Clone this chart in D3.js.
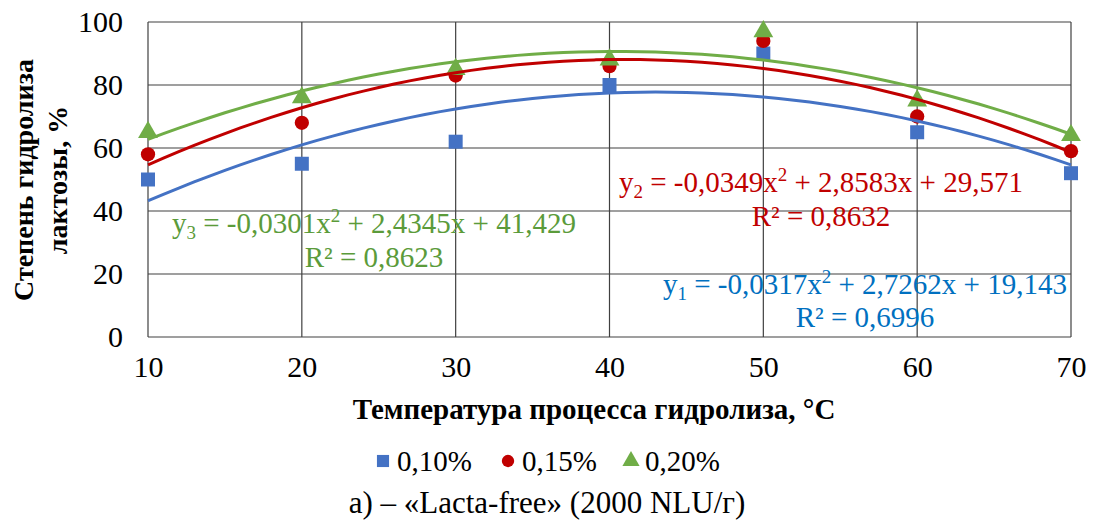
<!DOCTYPE html>
<html>
<head>
<meta charset="utf-8">
<script src="https://cdn.jsdelivr.net/npm/d3@7"></script>
</head>
<body style="margin:0; background:#fff">
<div id="chart"></div>
<script>
// data
var temps = [10, 20, 30, 40, 50, 60, 70];
var s010 = [50, 55, 62, 80, 90, 65, 52];
var s015 = [58, 68, 83, 86, 94, 70, 59];
var s020 = [65, 76, 85, 88, 97, 75, 64];
var seriesNames = ['0,10%', '0,15%', '0,20%'];
// trendline coefficients (a, b, c) as printed on the chart
var coef010 = [-0.0317, 2.7262, 19.143];
var coef015 = [-0.0349, 2.8583, 29.571];
var coef020 = [-0.0301, 2.4345, 41.429];
var r2Labels = ['0,6996', '0,8632', '0,8623'];
var eqLabels = [
  ['1', '-0,0317x', ' + 2,7262x + 19,143'],
  ['2', '-0,0349x', ' + 2,8583x + 29,571'],
  ['3', '-0,0301x', ' + 2,4345x + 41,429']
];
var xTicks = [10, 20, 30, 40, 50, 60, 70];
var yTicks = [0, 20, 40, 60, 80, 100];

var FONT = 'Liberation Serif';
var W = 1094, H = 523;
var margin = { top: 22, right: 23, bottom: 186, left: 148 },
  width = W - margin.left - margin.right,
  height = H - margin.top - margin.bottom;

var svg = d3.select('#chart').append('svg')
  .attr('width', W)
  .attr('height', H)
  .attr('font-family', FONT);

var g = svg.append('g')
  .attr('transform', 'translate(' + margin.left + ',' + margin.top + ')');

var x = d3.scaleLinear().domain([10, 70]).range([0, width]);
var y = d3.scaleLinear().domain([0, 100]).range([height, 0]);

function label(sel, size, bold) {
  return sel.attr('font-family', FONT)
    .attr('font-size', size)
    .attr('font-weight', bold ? 'bold' : 'normal');
}

// grid
g.append('g').selectAll('line').data(yTicks).enter().append('line')
  .attr('x1', 0).attr('x2', width)
  .attr('y1', function(d) { return y(d); })
  .attr('y2', function(d) { return y(d); })
  .attr('stroke', '#404040').attr('stroke-width', 1.2);
g.append('g').selectAll('line').data(xTicks).enter().append('line')
  .attr('y1', 0).attr('y2', height)
  .attr('x1', function(d) { return x(d); })
  .attr('x2', function(d) { return x(d); })
  .attr('stroke', '#404040').attr('stroke-width', 1.2);

// axes (labels only)
var xAxis = g.append('g')
  .attr('transform', 'translate(0,' + height + ')')
  .call(d3.axisBottom(x).tickValues(xTicks).tickSize(0).tickPadding(19).tickFormat(d3.format('d')));
var yAxis = g.append('g')
  .call(d3.axisLeft(y).tickValues(yTicks).tickSize(0).tickPadding(25).tickFormat(d3.format('d')));
[xAxis, yAxis].forEach(function(a) {
  a.attr('font-family', FONT).attr('font-size', 30);
  a.select('.domain').remove();
  label(a.selectAll('text'), 30).attr('fill', '#000');
});

var series = [
  { vals: s010, coef: coef010, color: '#4472C4', text: '#0070C0', shape: d3.symbolSquare, size: 196 },
  { vals: s015, coef: coef015, color: '#C00000', text: '#C00000', shape: d3.symbolCircle, size: 160 },
  { vals: s020, coef: coef020, color: '#70AD47', text: '#5B9B3A', shape: d3.symbolTriangle, size: 170 }
];

// markers
series.forEach(function(s) {
  g.append('g').selectAll('path').data(s.vals).enter().append('path')
    .attr('d', d3.symbol().type(s.shape).size(s.size))
    .attr('transform', function(d, i) { return 'translate(' + x(temps[i]) + ',' + y(d) + ')'; })
    .attr('fill', s.color);
});

// polynomial trendlines
var line = d3.line()
  .x(function(d) { return x(d[0]); })
  .y(function(d) { return y(d[1]); })
  .curve(d3.curveMonotoneX);
series.forEach(function(s) {
  var pts = d3.range(10, 70.01, 1).map(function(t) {
    return [t, s.coef[0] * t * t + s.coef[1] * t + s.coef[2]];
  });
  g.append('path').datum(pts)
    .attr('d', line)
    .attr('fill', 'none')
    .attr('stroke', s.color)
    .attr('stroke-width', 3);
});

// equation labels
var eqPos = [
  { x: 865, y: 294, rx: 865, ry: 327 },
  { x: 821, y: 192, rx: 821, ry: 226 },
  { x: 374, y: 233, rx: 374, ry: 267 }
];
series.forEach(function(s, i) {
  var p = eqPos[i];
  var t = label(svg.append('text'), 29)
    .attr('x', p.x).attr('y', p.y)
    .attr('text-anchor', 'middle')
    .attr('fill', s.text);
  t.append('tspan').text('y');
  t.append('tspan').attr('dy', 6).attr('font-size', 19).text(eqLabels[i][0]);
  t.append('tspan').attr('dy', -6).text(' = ' + eqLabels[i][1]);
  t.append('tspan').attr('dy', -11).attr('font-size', 19).text('2');
  t.append('tspan').attr('dy', 11).text(eqLabels[i][2]);
  label(svg.append('text'), 29)
    .attr('x', p.rx).attr('y', p.ry)
    .attr('text-anchor', 'middle')
    .attr('fill', s.text)
    .text('R² = ' + r2Labels[i]);
});

// axis titles
label(svg.append('text'), 28, true)
  .attr('transform', 'translate(33,180) rotate(-90)')
  .attr('text-anchor', 'middle')
  .text('Степень гидролиза');
label(svg.append('text'), 28, true)
  .attr('transform', 'translate(67,180) rotate(-90)')
  .attr('text-anchor', 'middle')
  .text('лактозы, %');
label(svg.append('text'), 29, true)
  .attr('x', 594).attr('y', 419)
  .attr('text-anchor', 'middle')
  .text('Температура процесса гидролиза, °С');

// legend
var legX = [383, 508, 631];
series.forEach(function(s, i) {
  svg.append('path')
    .attr('d', d3.symbol().type(s.shape).size(s.size * 0.75))
    .attr('transform', 'translate(' + legX[i] + ',461)')
    .attr('fill', s.color);
  label(svg.append('text'), 29)
    .attr('x', legX[i] + 14).attr('y', 471)
    .text(seriesNames[i]);
});

// caption
label(svg.append('text'), 31)
  .attr('x', 547).attr('y', 513)
  .attr('text-anchor', 'middle')
  .text('а) – «Lacta-free» (2000 NLU/г)');
</script>
</body>
</html>
